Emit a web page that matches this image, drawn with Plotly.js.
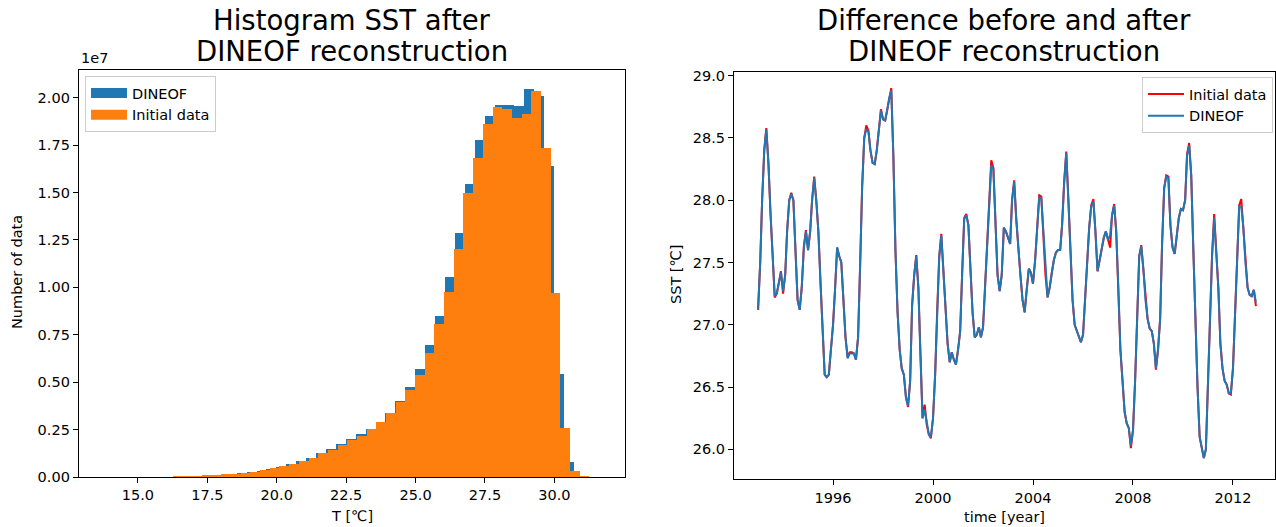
<!DOCTYPE html>
<html>
<head>
<meta charset="utf-8">
<script src="https://cdn.plot.ly/plotly-3.0.1.min.js"></script>
<style>html,body{margin:0;padding:0;background:#fff;}#chart{width:1276px;height:527px;}</style>
</head>
<body>
<div id="chart"></div>
<script>
// ---------------- Histogram data ----------------
const dineofBinStart = 13.91;
const dineofBinWidth = 0.3574;
const dineofCounts = [
  1000, 1000, 2000, 3000, 5000, 10000, 20000, 40000, 50000, 70000,
  90000, 120000, 160000, 210000, 270000, 340000, 440000, 540000, 670000, 820000,
  1020000, 1270000, 1460000, 1730000, 1990000, 2290000, 2550000, 2870000, 3400000, 4000000,
  4720000, 5670000, 6950000, 8500000, 10520000, 12840000, 15450000, 17770000, 19030000, 19620000,
  19620000, 19550000, 20440000, 20090000, 16400000, 5430000, 810000, 40000, 5000, 1000
];
const initialBinStart = 13.82;
const initialBinWidth = 0.3488;
const initialCounts = [
  0, 1000, 1000, 2000, 3000, 5000, 10000, 40000, 50000, 60000,
  80000, 110000, 140000, 180000, 230000, 280000, 360000, 460000, 560000, 690000,
  840000, 1000000, 1250000, 1420000, 1670000, 1950000, 2180000, 2510000, 2880000, 3360000,
  3970000, 4570000, 5400000, 6560000, 8070000, 9740000, 12000000, 14960000, 16800000, 18610000,
  19490000, 19380000, 18910000, 19140000, 20350000, 17330000, 9680000, 2600000, 300000, 50000
];
const histXTicks = [15.0, 17.5, 20.0, 22.5, 25.0, 27.5, 30.0];
const histXTickText = ["15.0", "17.5", "20.0", "22.5", "25.0", "27.5", "30.0"];
const histYTicks = [0, 2500000, 5000000, 7500000, 10000000, 12500000, 15000000, 17500000, 20000000];
const histYTickText = ["0.00", "0.25", "0.50", "0.75", "1.00", "1.25", "1.50", "1.75", "2.00"];

// ---------------- Time series data (monthly, 1993-01 .. 2012-12) ----------------
const startYear = 1993;
const sstDineof = [
  27.13, 27.50, 28.00, 28.40, 28.57, 28.30, 27.90, 27.50, 27.23, 27.25,
  27.33, 27.42, 27.27, 27.40, 27.75, 28.00, 28.05, 28.00, 27.60, 27.20,
  27.12, 27.30, 27.62, 27.75, 27.60, 27.75, 28.00, 28.18, 28.00, 27.75,
  27.35, 26.90, 26.60, 26.58, 26.60, 26.80, 27.00, 27.30, 27.62, 27.55,
  27.50, 27.20, 26.90, 26.73, 26.77, 26.77, 26.77, 26.72, 26.90, 27.50,
  28.10, 28.50, 28.57, 28.55, 28.40, 28.30, 28.29, 28.40, 28.55, 28.72,
  28.65, 28.64, 28.72, 28.82, 28.88, 28.35, 27.60, 27.10, 26.80, 26.65,
  26.60, 26.42, 26.35, 26.55, 27.15, 27.40, 27.55, 27.30, 26.75, 26.25,
  26.32, 26.20, 26.12, 26.10, 26.25, 26.60, 27.10, 27.55, 27.72, 27.40,
  27.10, 26.85, 26.70, 26.78, 26.72, 26.68, 26.80, 26.95, 27.40, 27.85,
  27.88, 27.80, 27.45, 27.10, 26.90, 26.92, 26.98, 26.90, 26.98, 27.30,
  27.60, 27.98, 28.28, 28.25, 27.80, 27.40, 27.27, 27.40, 27.78, 27.75,
  27.70, 27.65, 28.00, 28.15, 27.85, 27.60, 27.40, 27.20, 27.10, 27.28,
  27.45, 27.42, 27.33, 27.52, 27.80, 28.02, 28.02, 27.75, 27.40, 27.22,
  27.30, 27.42, 27.52, 27.58, 27.60, 27.60, 27.80, 28.15, 28.38, 28.00,
  27.60, 27.20, 27.00, 26.95, 26.90, 26.86, 26.92, 27.20, 27.55, 27.78,
  27.95, 27.99, 27.75, 27.43, 27.52, 27.62, 27.70, 27.75, 27.68, 27.72,
  27.88, 27.96, 27.75, 27.30, 26.80, 26.55, 26.30, 26.21, 26.17, 26.03,
  26.15, 26.55, 27.10, 27.55, 27.63, 27.45, 27.20, 27.05, 26.97, 26.95,
  26.85, 26.65, 26.80, 27.05, 27.65, 28.10, 28.19, 28.18, 27.80, 27.62,
  27.57, 27.70, 27.86, 27.93, 27.92, 28.00, 28.36, 28.44, 28.20, 27.60,
  27.00, 26.50, 26.10, 26.02, 25.93, 26.00, 26.55, 27.15, 27.55, 27.86,
  27.60, 27.30, 26.85, 26.65, 26.55, 26.52, 26.45, 26.45, 26.65, 27.10,
  27.60, 27.95, 27.95, 27.78, 27.50, 27.30, 27.24, 27.23, 27.28, 27.18
];
const sstInitial = [
  27.12, 27.50, 28.00, 28.40, 28.58, 28.30, 27.90, 27.50, 27.22, 27.25,
  27.33, 27.43, 27.25, 27.40, 27.75, 28.00, 28.06, 28.00, 27.60, 27.20,
  27.12, 27.30, 27.63, 27.76, 27.60, 27.75, 28.00, 28.19, 28.00, 27.75,
  27.35, 26.90, 26.60, 26.58, 26.60, 26.80, 27.00, 27.30, 27.62, 27.55,
  27.50, 27.20, 26.90, 26.74, 26.78, 26.78, 26.77, 26.72, 26.90, 27.50,
  28.10, 28.50, 28.60, 28.56, 28.40, 28.30, 28.29, 28.40, 28.55, 28.73,
  28.65, 28.64, 28.72, 28.82, 28.90, 28.35, 27.60, 27.10, 26.80, 26.65,
  26.60, 26.42, 26.34, 26.55, 27.15, 27.40, 27.56, 27.30, 26.75, 26.25,
  26.36, 26.20, 26.12, 26.09, 26.25, 26.60, 27.10, 27.55, 27.73, 27.40,
  27.10, 26.85, 26.70, 26.78, 26.72, 26.68, 26.80, 26.95, 27.40, 27.86,
  27.89, 27.80, 27.45, 27.10, 26.90, 26.92, 26.98, 26.90, 26.98, 27.30,
  27.60, 27.98, 28.32, 28.26, 27.80, 27.40, 27.27, 27.40, 27.78, 27.75,
  27.70, 27.65, 28.00, 28.16, 27.85, 27.60, 27.40, 27.20, 27.10, 27.28,
  27.45, 27.42, 27.33, 27.52, 27.80, 28.04, 28.03, 27.75, 27.40, 27.22,
  27.30, 27.42, 27.52, 27.58, 27.60, 27.60, 27.80, 28.15, 28.39, 28.00,
  27.60, 27.20, 27.00, 26.95, 26.90, 26.86, 26.92, 27.20, 27.55, 27.78,
  27.96, 28.01, 27.75, 27.43, 27.52, 27.62, 27.70, 27.75, 27.68, 27.62,
  27.88, 27.97, 27.75, 27.30, 26.80, 26.55, 26.30, 26.21, 26.17, 26.01,
  26.15, 26.55, 27.10, 27.55, 27.64, 27.45, 27.20, 27.05, 26.97, 26.95,
  26.85, 26.64, 26.80, 27.05, 27.65, 28.10, 28.20, 28.19, 27.80, 27.62,
  27.57, 27.70, 27.86, 27.93, 27.92, 28.00, 28.37, 28.46, 28.20, 27.60,
  27.00, 26.50, 26.10, 26.02, 25.93, 26.00, 26.55, 27.15, 27.55, 27.89,
  27.60, 27.30, 26.85, 26.65, 26.55, 26.52, 26.45, 26.44, 26.65, 27.10,
  27.60, 27.96, 28.01, 27.78, 27.50, 27.30, 27.24, 27.23, 27.28, 27.15
];
const timeTickVals = ["1996-01-01", "2000-01-01", "2004-01-01", "2008-01-01", "2012-01-01"];
const timeTickText = ["1996", "2000", "2004", "2008", "2012"];
const sstTicks = [26.0, 26.5, 27.0, 27.5, 28.0, 28.5, 29.0];
const sstTickText = ["26.0", "26.5", "27.0", "27.5", "28.0", "28.5", "29.0"];

// ---------------- Build traces ----------------
function centers(start, width, n) {
  const c = [];
  for (let i = 0; i < n; i++) c.push(start + (i + 0.5) * width);
  return c;
}
function monthDates(y0, n) {
  const d = [];
  for (let i = 0; i < n; i++) {
    const y = y0 + Math.floor(i / 12);
    const m = (i % 12) + 1;
    d.push(y + "-" + (m < 10 ? "0" + m : m) + "-01");
  }
  return d;
}
const dates = monthDates(startYear, sstDineof.length);

const FONT = "DejaVu Sans, Arial, sans-serif";
const SMALL = 14.5;
const W = 1276, H = 527;
const px = v => v / W;
const py = v => (H - v) / H;
const BLUE = "#1f77b4", ORANGE = "#ff7f0e";

const traces = [
  {
    type: "bar", name: "DINEOF",
    x: centers(dineofBinStart, dineofBinWidth, dineofCounts.length),
    y: dineofCounts, width: dineofBinWidth,
    marker: {color: BLUE, line: {width: 0}},
    xaxis: "x", yaxis: "y", showlegend: false
  },
  {
    type: "bar", name: "Initial data",
    x: centers(initialBinStart, initialBinWidth, initialCounts.length),
    y: initialCounts, width: initialBinWidth,
    marker: {color: ORANGE, line: {width: 0}},
    xaxis: "x", yaxis: "y", showlegend: false
  },
  // legend patches (rectangular, matplotlib-like) for the histogram
  {
    type: "scatter", mode: "lines", name: "DINEOF", x: [null], y: [null],
    line: {color: BLUE, width: 10}, xaxis: "x", yaxis: "y", legend: "legend"
  },
  {
    type: "scatter", mode: "lines", name: "Initial data", x: [null], y: [null],
    line: {color: ORANGE, width: 10}, xaxis: "x", yaxis: "y", legend: "legend"
  },
  {
    type: "scatter", mode: "lines", name: "Initial data",
    x: dates, y: sstInitial,
    line: {color: "#ff0000", width: 2},
    xaxis: "x2", yaxis: "y2", legend: "legend2"
  },
  {
    type: "scatter", mode: "lines", name: "DINEOF",
    x: dates, y: sstDineof,
    line: {color: BLUE, width: 2},
    xaxis: "x2", yaxis: "y2", legend: "legend2"
  }
];

const axisCommon = {
  showline: true, linecolor: "#000", linewidth: 1, mirror: true,
  ticks: "outside", ticklen: 5, tickwidth: 1, tickcolor: "#000",
  showgrid: false, zeroline: false,
  tickfont: {family: FONT, size: SMALL, color: "#000"}
};

function ann(text, x, y, opts) {
  return Object.assign({text: text, x: px(x), y: py(y), xref: "paper", yref: "paper",
    xanchor: "center", yanchor: "middle", showarrow: false,
    font: {family: FONT, size: SMALL, color: "#000"}}, opts || {});
}
const TITLE = {family: FONT, size: 27.5, color: "#000"};

const layout = {
  width: W, height: H,
  margin: {l: 0, r: 0, t: 0, b: 0},
  paper_bgcolor: "#fff", plot_bgcolor: "#fff",
  barmode: "overlay", bargap: 0,
  showlegend: true,
  xaxis: Object.assign({}, axisCommon, {
    domain: [px(78.8), px(624.6)], anchor: "y",
    range: [12.87, 32.53], tickvals: histXTicks, ticktext: histXTickText
  }),
  yaxis: Object.assign({}, axisCommon, {
    domain: [py(477), py(70)], anchor: "x",
    range: [0, 21460000], tickvals: histYTicks, ticktext: histYTickText
  }),
  xaxis2: Object.assign({}, axisCommon, {
    domain: [px(734), px(1275)], anchor: "y2", type: "date",
    range: ["1992-01-15", "2013-09-06"], tickvals: timeTickVals, ticktext: timeTickText
  }),
  yaxis2: Object.assign({}, axisCommon, {
    domain: [py(479.3), py(72.3)], anchor: "x2",
    range: [25.76, 29.027], tickvals: sstTicks, ticktext: sstTickText
  }),
  legend: {
    x: px(85), y: py(76), xanchor: "left", yanchor: "top", xref: "paper", yref: "paper",
    bgcolor: "rgba(255,255,255,0.8)", bordercolor: "#cccccc", borderwidth: 1,
    font: {family: FONT, size: SMALL, color: "#000"}, tracegroupgap: 2, itemwidth: 36
  },
  legend2: {
    x: px(1273), y: py(77), xanchor: "right", yanchor: "top", xref: "paper", yref: "paper",
    bgcolor: "rgba(255,255,255,0.8)", bordercolor: "#cccccc", borderwidth: 1,
    font: {family: FONT, size: SMALL, color: "#000"}, tracegroupgap: 2, itemwidth: 36
  },
  annotations: [
    ann("Histogram SST after", 351.7, 20, {font: TITLE}),
    ann("DINEOF reconstruction", 351.7, 51, {font: TITLE}),
    ann("Difference before and after", 1004, 20, {font: TITLE}),
    ann("DINEOF reconstruction", 1004, 51, {font: TITLE}),
    ann("1e7", 79, 68, {xanchor: "left", yanchor: "bottom"}),
    ann("Number of data", 17, 272, {textangle: -90}),
    ann("T [℃]", 351.7, 516),
    ann("SST [℃]", 676, 275, {textangle: -90}),
    ann("time [year]", 1004, 517)
  ]
};

Plotly.newPlot("chart", traces, layout, {staticPlot: true, displayModeBar: false});
</script>
</body>
</html>
